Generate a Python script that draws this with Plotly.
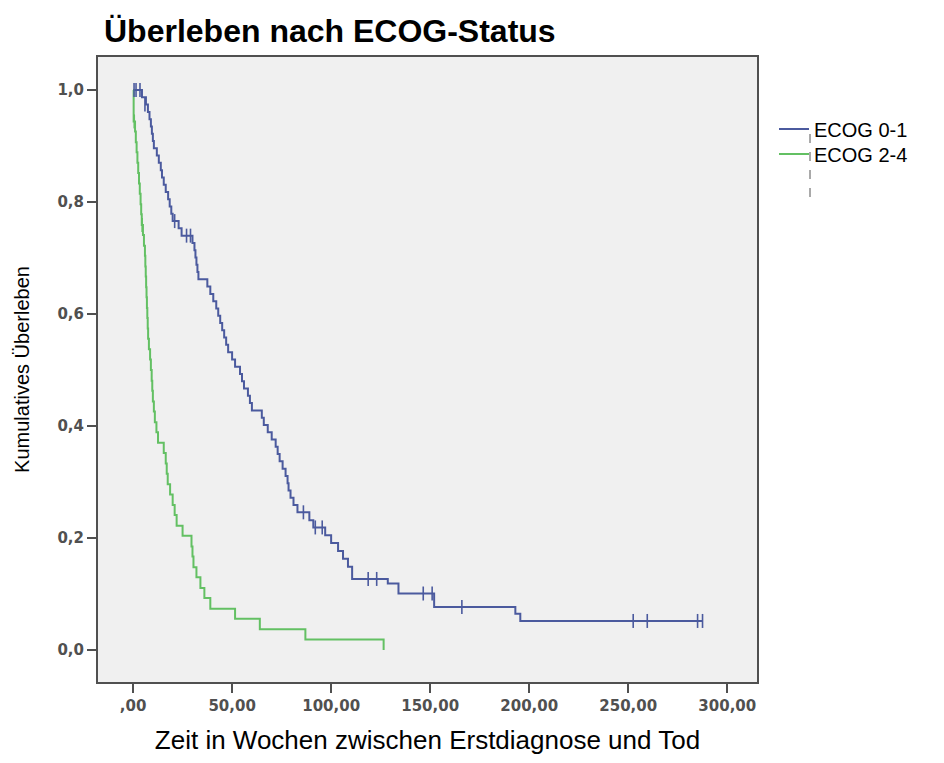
import plotly.graph_objects as go

# ---- data ----
ecog01_time = [0, 4.5, 6.5, 7.5, 8.3, 9.0, 9.5, 10.0, 10.5, 12.0, 13.0, 14.0, 14.6, 15.5,
               16.5, 17.7, 18.5, 19.3, 20.0, 23.0, 24.5, 30.0, 31.0, 31.5, 32.0, 32.5, 33.0,
               37.5, 39.0, 40.5, 42.0, 43.0, 44.0, 45.0, 46.0, 47.0, 48.0, 50.0, 51.5, 54.0,
               55.0, 56.0, 58.0, 59.0, 60.0, 65.0, 66.0, 68.0, 70.0, 72.0, 73.0, 74.0, 75.5,
               77.0, 78.0, 78.5, 79.5, 81.0, 83.0, 89.0, 91.0, 97.0, 100.0, 103.5, 106.0,
               108.5, 110.6, 128.6, 134.0, 152.0, 193.0, 195.5, 287.5]
ecog01_surv = [1.000, 0.987, 0.974, 0.961, 0.948, 0.935, 0.922, 0.909, 0.896, 0.883, 0.870,
               0.857, 0.844, 0.831, 0.818, 0.805, 0.792, 0.779, 0.766, 0.753, 0.740, 0.727,
               0.714, 0.701, 0.688, 0.675, 0.662, 0.649, 0.636, 0.623, 0.610, 0.597, 0.584,
               0.571, 0.558, 0.545, 0.532, 0.519, 0.506, 0.493, 0.480, 0.467, 0.454, 0.441,
               0.428, 0.415, 0.402, 0.389, 0.376, 0.363, 0.350, 0.337, 0.324, 0.311, 0.298,
               0.285, 0.272, 0.259, 0.246, 0.232, 0.219, 0.205, 0.191, 0.177, 0.163, 0.149,
               0.127, 0.119, 0.101, 0.077, 0.065, 0.052, 0.052]
ecog01_cens_time = [0.5, 1.5, 3.5, 6.0, 21.0, 27.0, 29.0, 86.0, 92.0, 95.5, 118.7, 123.0,
                    146.5, 151.0, 166.0, 252.5, 259.6, 285.0, 287.5]
ecog01_cens_surv = [1.000, 1.000, 1.000, 0.974, 0.766, 0.740, 0.740, 0.246, 0.219, 0.219,
                    0.127, 0.127, 0.101, 0.101, 0.077, 0.052, 0.052, 0.052, 0.052]

ecog24_time = [0, 0.3, 1.0, 1.4, 1.8, 2.2, 2.6, 3.0, 3.4, 3.8, 4.1, 4.4, 5.0, 5.5, 6.0, 6.2,
               6.4, 6.6, 6.8, 7.0, 7.2, 7.4, 7.6, 8.0, 8.6, 9.0, 9.4, 9.7, 10.0, 10.5, 11.0,
               11.8, 12.6, 15.5, 16.5, 17.0, 17.5, 18.7, 20.0, 21.0, 22.0, 25.0, 29.5, 30.0,
               30.5, 32.0, 34.0, 36.0, 39.0, 51.5, 64.0, 87.0, 126.5]
ecog24_surv = [1.000, 0.944, 0.926, 0.907, 0.889, 0.870, 0.852, 0.833, 0.815, 0.796, 0.778,
               0.759, 0.741, 0.722, 0.704, 0.685, 0.667, 0.648, 0.630, 0.611, 0.593, 0.574,
               0.556, 0.537, 0.519, 0.500, 0.481, 0.463, 0.444, 0.426, 0.407, 0.389, 0.370,
               0.352, 0.333, 0.315, 0.296, 0.278, 0.259, 0.241, 0.222, 0.204, 0.185, 0.167,
               0.148, 0.130, 0.111, 0.093, 0.074, 0.056, 0.037, 0.019, 0.000]
ecog24_cens_time = [0.6, 4.6]
ecog24_cens_surv = [0.944, 0.759]

x_tickvals = [0, 50, 100, 150, 200, 250, 300]
x_ticktext = [",00", "50,00", "100,00", "150,00", "200,00", "250,00", "300,00"]
y_tickvals = [0.0, 0.2, 0.4, 0.6, 0.8, 1.0]
y_ticktext = ["0,0", "0,2", "0,4", "0,6", "0,8", "1,0"]

BLUE = "#4b5a9e"
GREEN = "#63c063"

fig = go.Figure()
fig.add_trace(go.Scatter(x=ecog01_time, y=ecog01_surv, mode="lines", line_shape="hv",
                         line=dict(color=BLUE, width=2), name="ECOG 0-1",
                         legend="legend"))
fig.add_trace(go.Scatter(x=ecog24_time, y=ecog24_surv, mode="lines", line_shape="hv",
                         line=dict(color=GREEN, width=2), name="ECOG 2-4",
                         legend="legend2"))
fig.add_trace(go.Scatter(x=ecog01_cens_time, y=ecog01_cens_surv, mode="markers",
                         marker=dict(symbol="line-ns-open", size=10, color=BLUE,
                                     line=dict(color=BLUE, width=1.6)),
                         showlegend=False))
fig.add_trace(go.Scatter(x=ecog24_cens_time, y=ecog24_cens_surv, mode="markers",
                         marker=dict(symbol="line-ns-open", size=10, color=GREEN,
                                     line=dict(color=GREEN, width=1.6)),
                         showlegend=False))

axis_common = dict(showline=True, linecolor="#505050", linewidth=2, mirror=True,
                   ticks="outside", ticklen=9, tickwidth=2, tickcolor="#505050",
                   showgrid=False, zeroline=False,
                   tickfont=dict(family="DejaVu Sans", size=15, color="#505050",
                                 weight="bold"))

legend_common = dict(xanchor="left", yanchor="middle", bgcolor="rgba(0,0,0,0)",
                     borderwidth=0, itemwidth=30,
                     font=dict(family="Liberation Sans, Arial", size=20, color="black"))

fig.update_layout(
    width=944, height=763,
    margin=dict(l=98, r=187, t=57, b=81),
    paper_bgcolor="white", plot_bgcolor="#f0f0f0",
    title=dict(text="<b>Überleben nach ECOG-Status</b>", x=104 / 944, xanchor="left",
               y=1 - 31 / 763, yanchor="middle",
               font=dict(family="Liberation Sans, Arial", size=32, color="black")),
    xaxis=dict(range=[-17.7, 315], tickvals=x_tickvals, ticktext=x_ticktext,
               title=dict(text="Zeit in Wochen zwischen Erstdiagnose und Tod", standoff=17,
                          font=dict(family="Liberation Sans, Arial", size=26, color="black")),
               **axis_common),
    yaxis=dict(range=[-0.057, 1.059], tickvals=y_tickvals, ticktext=y_ticktext,
               title=dict(text="Kumulatives Überleben", standoff=22,
                          font=dict(family="Liberation Sans, Arial", size=20, color="black")),
               **axis_common),
    legend=dict(x=(774 - 98) / 659, y=(682 - 129) / 625, **legend_common),
    legend2=dict(x=(774 - 98) / 659, y=(682 - 154) / 625, **legend_common),
    showlegend=True,
)

# dashed vertical artefact next to the legend
fig.add_shape(type="line", xref="paper", yref="paper",
              x0=(810 - 98) / 659, x1=(810 - 98) / 659,
              y0=(682 - 134) / 625, y1=(682 - 200) / 625,
              line=dict(color="#555555", width=1, dash="dash"))

fig.write_html("out.html")
